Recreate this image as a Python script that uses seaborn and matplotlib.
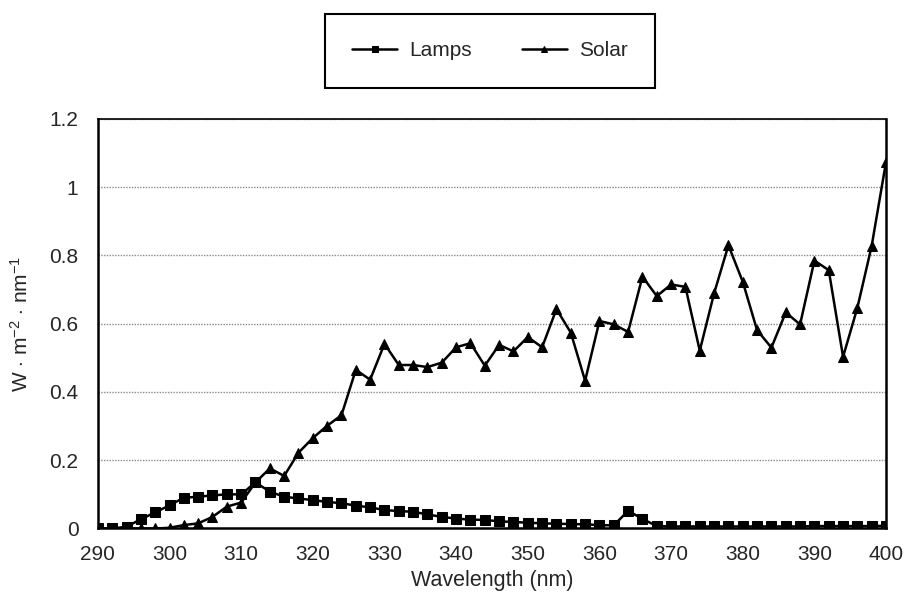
import numpy as np
import pandas as pd
import seaborn as sns
import matplotlib.pyplot as plt
from matplotlib.ticker import MultipleLocator

# --- data ---
wavelength = [290, 292, 294, 296, 298, 300, 302, 304, 306, 308,
              310, 312, 314, 316, 318, 320, 322, 324, 326, 328,
              330, 332, 334, 336, 338, 340, 342, 344, 346, 348,
              350, 352, 354, 356, 358, 360, 362, 364, 366, 368,
              370, 372, 374, 376, 378, 380, 382, 384, 386, 388,
              390, 392, 394, 396, 398, 400]

lamps = [0.0, 0.0, 0.005, 0.027, 0.047, 0.068, 0.090, 0.093, 0.097, 0.100,
         0.100, 0.135, 0.108, 0.093, 0.088, 0.083, 0.078, 0.074, 0.067, 0.062,
         0.054, 0.051, 0.049, 0.041, 0.034, 0.029, 0.026, 0.025, 0.021, 0.019,
         0.017, 0.015, 0.014, 0.013, 0.012, 0.010, 0.009, 0.052, 0.028, 0.007,
         0.006, 0.006, 0.006, 0.006, 0.006, 0.006, 0.006, 0.006, 0.006, 0.006,
         0.007, 0.007, 0.007, 0.007, 0.007, 0.008]

solar = [0.0, 0.0, 0.0, 0.0, 0.0, 0.002, 0.010, 0.015, 0.034, 0.064,
         0.076, 0.135, 0.176, 0.154, 0.222, 0.265, 0.301, 0.332, 0.465, 0.436,
         0.541, 0.479, 0.479, 0.473, 0.486, 0.531, 0.543, 0.477, 0.538, 0.519,
         0.561, 0.531, 0.643, 0.574, 0.433, 0.608, 0.598, 0.576, 0.738, 0.681,
         0.715, 0.708, 0.521, 0.689, 0.830, 0.723, 0.581, 0.530, 0.633, 0.598,
         0.785, 0.757, 0.503, 0.647, 0.829, 1.075]

x_ticks = [290, 300, 310, 320, 330, 340, 350, 360, 370, 380, 390, 400]
y_ticks = [0, 0.2, 0.4, 0.6, 0.8, 1.0, 1.2]
y_tick_labels = ["0", "0.2", "0.4", "0.6", "0.8", "1", "1.2"]

df = pd.DataFrame({
    "Wavelength": wavelength * 2,
    "value": lamps + solar,
    "series": ["Lamps"] * len(lamps) + ["Solar"] * len(solar),
})

sns.set_style("white")
plt.rcParams["font.family"] = ["Liberation Sans", "DejaVu Sans"]
plt.rcParams["mathtext.fontset"] = "custom"
plt.rcParams["mathtext.rm"] = "Liberation Sans"
plt.rcParams["mathtext.it"] = "Liberation Sans"

fig = plt.figure(figsize=(9.06, 6.0), dpi=100)
ax = fig.add_axes([0.108, 0.1192, 0.870, 0.6825])

sns.lineplot(data=df, x="Wavelength", y="value", hue="series", style="series",
             palette={"Lamps": "black", "Solar": "black"},
             markers={"Lamps": "s", "Solar": "^"}, dashes=False,
             linewidth=1.8, markersize=6.5, markeredgecolor="black",
             ax=ax, legend=True)

ax.set_xlim(290, 400)
ax.set_ylim(0, 1.2)
ax.set_xticks(x_ticks)
ax.set_yticks(y_ticks)
ax.set_yticklabels(y_tick_labels)
ax.yaxis.set_minor_locator(MultipleLocator(0.1))

ax.grid(axis="y", which="major", color="#8a8a8a", linestyle=(0, (1, 1)), linewidth=1.0)
ax.set_axisbelow(True)

ax.tick_params(axis="y", which="major", direction="out", length=8, width=0.8,
               color="#8a8a8a", labelsize=15, pad=6)
ax.tick_params(axis="y", which="minor", direction="inout", length=10, width=0.8,
               color="#8a8a8a")
ax.tick_params(axis="x", which="major", direction="inout", length=8, width=0.8,
               color="#8a8a8a", labelsize=15, pad=8)

for side in ["left", "bottom", "right"]:
    ax.spines[side].set_color("black")
    ax.spines[side].set_linewidth(1.8)
ax.spines["top"].set_color("black")
ax.spines["top"].set_linewidth(1.2)

ax.set_xlabel("Wavelength (nm)", fontsize=15.5, labelpad=4)
ax.set_ylabel(r"W $\cdot$ m$^{-2}$ $\cdot$ nm$^{-1}$", fontsize=15)
ax.yaxis.set_label_coords(-0.084, 0.5)

handles, labels = ax.get_legend_handles_labels()
ax.legend(handles, labels, loc="center", bbox_to_anchor=(0.541, 0.915),
          bbox_transform=fig.transFigure, ncol=2, fontsize=15,
          frameon=True, fancybox=False, edgecolor="black", framealpha=1,
          markerscale=0.75, handlelength=2.15, columnspacing=2.4,
          borderpad=1.3, handletextpad=0.6, borderaxespad=0)
ax.get_legend().get_frame().set_linewidth(1.5)

fig.savefig("out.png", dpi=100)
